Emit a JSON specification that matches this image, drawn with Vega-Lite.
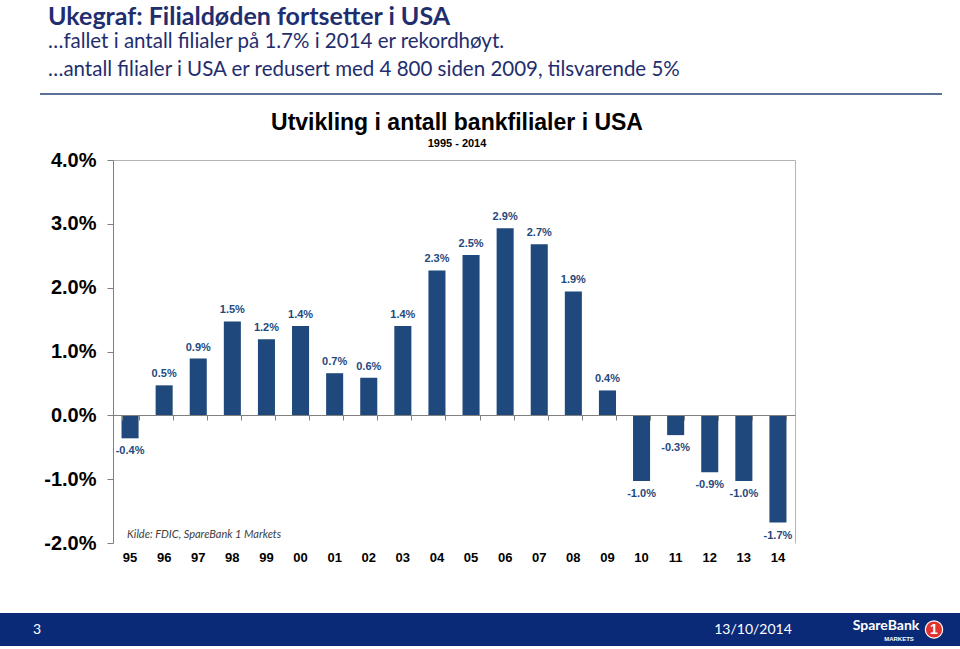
{
  "$schema": "https://vega.github.io/schema/vega-lite/v6.json",
  "background": "white",
  "padding": {"left": 0, "top": 4, "right": 0, "bottom": 2},
  "spacing": 13,
  "config": {
    "view": {"stroke": null},
    "locale": {"number": {"decimal": ".", "thousands": ",", "grouping": [3], "currency": ["", ""], "minus": "-"}},
    "font": "Liberation Sans"
  },
  "vconcat": [
    {
      "spacing": 0,
      "hconcat": [
        {"width": 40, "height": 2, "data": {"values": [{}]}, "mark": {"type": "text", "text": ""}},
        {
          "width": 902,
          "height": 2,
          "view": {"fill": "#5B7096", "stroke": null},
          "title": {
            "text": "Ukegraf: Filialdøden fortsetter i USA",
            "subtitle": ["…fallet i antall filialer på 1.7% i 2014 er rekordhøyt.", "…antall filialer i USA er redusert med 4 800 siden 2009, tilsvarende 5%"],
            "anchor": "start",
            "frame": "group",
            "dx": 8,
            "offset": 8,
            "font": "Lato",
            "fontSize": 25,
            "fontWeight": "bold",
            "color": "#1F2E6E",
            "subtitleFont": "Lato",
            "subtitleFontSize": 20.5,
            "subtitleColor": "#1F2E6E",
            "subtitleLineHeight": 28,
            "subtitlePadding": 2
          },
          "data": {"values": [{}]},
          "mark": {"type": "text", "text": ""}
        }
      ]
    },
    {
      "spacing": 0,
      "hconcat": [
        {"width": 41, "height": 1, "data": {"values": [{}]}, "mark": {"type": "text", "text": ""}},
        {
          "width": 682,
          "height": 383,
          "title": {
            "text": "Utvikling i antall bankfilialer i USA",
            "subtitle": "1995 - 2014",
            "anchor": "middle",
            "frame": "group",
            "offset": 1,
            "dx": 3,
            "font": "Liberation Sans",
            "fontSize": 23,
            "fontWeight": "bold",
            "color": "black",
            "subtitleFont": "Liberation Sans",
            "subtitleFontSize": 11,
            "subtitleFontWeight": "bold",
            "subtitleColor": "black",
            "subtitlePadding": 3
          },
          "data": {"values": [
            {"year": "95", "v": -0.0036},
            {"year": "96", "v": 0.0047},
            {"year": "97", "v": 0.0089},
            {"year": "98", "v": 0.0147},
            {"year": "99", "v": 0.0119},
            {"year": "00", "v": 0.0140},
            {"year": "01", "v": 0.0066},
            {"year": "02", "v": 0.0059},
            {"year": "03", "v": 0.0140},
            {"year": "04", "v": 0.0227},
            {"year": "05", "v": 0.0251},
            {"year": "06", "v": 0.0293},
            {"year": "07", "v": 0.0268},
            {"year": "08", "v": 0.0194},
            {"year": "09", "v": 0.0039},
            {"year": "10", "v": -0.0103},
            {"year": "11", "v": -0.0031},
            {"year": "12", "v": -0.0089},
            {"year": "13", "v": -0.0103},
            {"year": "14", "v": -0.0168}
          ]},
          "resolve": {"axis": {"x": "independent", "y": "independent"}},
          "layer": [
            {
              "mark": {"type": "bar", "color": "#1F497D"},
              "encoding": {
                "x": {
                  "field": "year", "type": "nominal", "sort": null,
                  "scale": {"paddingInner": 0.5, "paddingOuter": 0.25},
                  "axis": {"orient": "bottom", "title": null, "domain": false, "ticks": false, "labelAngle": 0,
                           "labelFont": "Liberation Sans", "labelFontSize": 13, "labelFontWeight": "bold",
                           "labelColor": "black", "labelPadding": 8, "minExtent": 57}
                },
                "y": {
                  "field": "v", "type": "quantitative",
                  "scale": {"domain": [-0.02, 0.04], "nice": false, "zero": false},
                  "axis": {"orient": "left", "title": null, "format": ".1%", "values": [-0.02, -0.01, 0, 0.01, 0.02, 0.03, 0.04],
                           "grid": false, "domainColor": "#808080", "tickColor": "#808080", "tickSize": 6,
                           "labelFont": "Liberation Sans", "labelFontSize": 20, "labelFontWeight": "bold",
                           "labelColor": "black", "labelPadding": 11, "minExtent": 72, "zindex": 1}
                }
              }
            },
            {
              "transform": [{"filter": "datum.v >= 0"}],
              "mark": {"type": "text", "color": "#1F497D", "font": "Liberation Sans", "fontSize": 11, "fontWeight": "bold", "baseline": "middle", "dy": -11},
              "encoding": {
                "x": {
                  "field": "year", "type": "nominal", "sort": null,
                  "axis": {"orient": "bottom", "offset": -128, "title": null, "labels": false, "domain": true,
                           "domainColor": "#808080", "ticks": true, "tickBand": "extent", "tickSize": 5,
                           "tickColor": "#808080", "minExtent": 0, "zindex": 1}
                },
                "y": {"field": "v", "type": "quantitative", "axis": null},
                "text": {"field": "v", "type": "quantitative", "format": ".1%"}
              }
            },
            {
              "transform": [{"filter": "datum.v < 0"}],
              "mark": {"type": "text", "color": "#1F497D", "font": "Liberation Sans", "fontSize": 11, "fontWeight": "bold", "baseline": "middle", "dy": 13},
              "encoding": {
                "x": {
                  "field": "year", "type": "nominal", "sort": null,
                  "axis": {"orient": "top", "title": null, "labels": false, "ticks": false, "domain": true,
                           "domainColor": "#B4B4B4", "minExtent": 0, "maxExtent": 0}
                },
                "y": {
                  "field": "v", "type": "quantitative",
                  "axis": {"orient": "right", "title": null, "labels": false, "ticks": false, "grid": false,
                           "domain": true, "domainColor": "#B4B4B4", "minExtent": 0, "maxExtent": 0}
                },
                "text": {"field": "v", "type": "quantitative", "format": ".1%"}
              }
            },
            {
              "data": {"values": [{"note": "Kilde: FDIC, SpareBank 1 Markets"}]},
              "mark": {"type": "text", "font": "Lato", "fontStyle": "italic",
                       "fontSize": 11, "color": "#404040", "align": "left", "baseline": "middle", "dx": -3},
              "encoding": {
                "x": {"datum": "95", "type": "nominal", "axis": null},
                "y": {"datum": -0.0187, "type": "quantitative", "axis": null},
                "text": {"field": "note", "type": "nominal"}
              }
            }
          ]
        }
      ]
    },
    {
      "spacing": 0,
      "hconcat": [
        {"width": 74, "height": 33, "view": {"fill": "#0A2A78", "stroke": null}, "data": {"values": [{"t": "3"}]},
         "mark": {"type": "text", "font": "Lato", "fontSize": 14, "color": "white", "baseline": "middle"},
         "encoding": {"text": {"field": "t", "type": "nominal"}}},
        {"width": 632, "height": 33, "view": {"fill": "#0A2A78", "stroke": null}, "data": {"values": [{}]},
         "mark": {"type": "text", "text": ""}},
        {"width": 94, "height": 33, "view": {"fill": "#0A2A78", "stroke": null}, "data": {"values": [{"t": "13/10/2014"}]},
         "mark": {"type": "text", "font": "Lato", "fontSize": 14, "color": "white", "baseline": "middle"},
         "encoding": {"text": {"field": "t", "type": "nominal"}}},
        {"width": 50, "height": 33, "view": {"fill": "#0A2A78", "stroke": null}, "data": {"values": [{}]},
         "mark": {"type": "text", "text": ""}},
        {"width": 72, "height": 33, "view": {"fill": "#0A2A78", "stroke": null},
         "data": {"values": [{"t": "SpareBank", "k": "name"}, {"t": "MARKETS", "k": "sub"}]},
         "layer": [
           {"transform": [{"filter": "datum.k == 'name'"}],
            "mark": {"type": "text", "font": "Lato", "fontSize": 14, "fontWeight": "bold", "color": "white", "baseline": "middle", "dy": -4},
            "encoding": {"text": {"field": "t", "type": "nominal"}}},
           {"transform": [{"filter": "datum.k == 'sub'"}],
            "mark": {"type": "text", "font": "Liberation Sans", "fontSize": 6, "fontWeight": "bold", "color": "white", "baseline": "middle", "dx": 13, "dy": 9},
            "encoding": {"text": {"field": "t", "type": "nominal"}}}
         ]},
        {"width": 24, "height": 33, "view": {"fill": "#0A2A78", "stroke": null},
         "data": {"values": [{"t": "1"}]},
         "layer": [
           {"mark": {"type": "circle", "size": 300, "color": "#E2342F", "opacity": 1, "stroke": "white", "strokeWidth": 1.2},
            "encoding": {}},
           {"mark": {"type": "text", "font": "Liberation Sans", "fontSize": 14, "fontWeight": "bold", "color": "white", "baseline": "middle"},
            "encoding": {"text": {"field": "t", "type": "nominal"}}}
         ]},
        {"width": 14, "height": 33, "view": {"fill": "#0A2A78", "stroke": null}, "data": {"values": [{}]},
         "mark": {"type": "text", "text": ""}}
      ]
    }
  ]
}
